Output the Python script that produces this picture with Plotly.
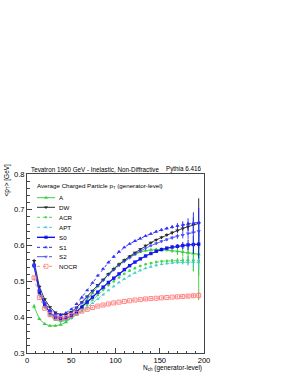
import plotly.graph_objects as go

# ---------------- data ----------------
nch = [8, 14, 20, 26, 32, 38, 44, 50, 56, 62, 68, 74, 80, 86, 92, 98,
       104, 110, 116, 122, 128, 134, 140, 146, 152, 158, 164, 170, 176, 182, 188, 194]

A = [0.430, 0.395, 0.381, 0.376, 0.376, 0.379, 0.386, 0.398, 0.413, 0.430, 0.448, 0.467, 0.486, 0.504, 0.521, 0.536,
     0.549, 0.560, 0.569, 0.576, 0.582, 0.586, 0.588, 0.589, 0.589, 0.588, 0.586, 0.584, 0.582, 0.580, 0.578, 0.576]
DW = [0.557, 0.485, 0.450, 0.428, 0.413, 0.407, 0.408, 0.415, 0.427, 0.442, 0.458, 0.474, 0.490, 0.505, 0.520, 0.534,
      0.547, 0.559, 0.570, 0.580, 0.590, 0.600, 0.608, 0.616, 0.623, 0.630, 0.636, 0.642, 0.648, 0.653, 0.658, 0.662]
ACR = [0.545, 0.470, 0.430, 0.405, 0.393, 0.388, 0.390, 0.397, 0.408, 0.420, 0.434, 0.448, 0.462, 0.476, 0.489, 0.500,
       0.511, 0.521, 0.530, 0.537, 0.543, 0.548, 0.551, 0.554, 0.556, 0.557, 0.558, 0.558, 0.559, 0.559, 0.559, 0.558]
APT = [0.540, 0.465, 0.428, 0.405, 0.393, 0.390, 0.392, 0.398, 0.406, 0.416, 0.427, 0.439, 0.451, 0.463, 0.475, 0.486,
       0.497, 0.507, 0.516, 0.524, 0.531, 0.537, 0.541, 0.545, 0.548, 0.550, 0.552, 0.553, 0.554, 0.554, 0.554, 0.553]
S0 = [0.545, 0.470, 0.435, 0.412, 0.400, 0.395, 0.397, 0.404, 0.415, 0.428, 0.442, 0.456, 0.470, 0.484, 0.497, 0.509,
      0.521, 0.533, 0.544, 0.554, 0.563, 0.571, 0.578, 0.584, 0.589, 0.593, 0.596, 0.598, 0.600, 0.602, 0.603, 0.604]
S1 = [0.545, 0.475, 0.440, 0.420, 0.410, 0.407, 0.412, 0.422, 0.437, 0.455, 0.475, 0.496, 0.516, 0.535, 0.553, 0.569,
      0.583, 0.595, 0.605, 0.613, 0.620, 0.627, 0.633, 0.639, 0.644, 0.648, 0.652, 0.655, 0.658, 0.661, 0.663, 0.665]
S2 = [0.545, 0.475, 0.440, 0.418, 0.405, 0.400, 0.403, 0.412, 0.425, 0.440, 0.456, 0.472, 0.488, 0.503, 0.518, 0.532,
      0.545, 0.556, 0.566, 0.576, 0.585, 0.593, 0.600, 0.606, 0.612, 0.617, 0.622, 0.626, 0.630, 0.634, 0.637, 0.640]
NOCR = [0.510, 0.455, 0.425, 0.407, 0.398, 0.396, 0.399, 0.405, 0.411, 0.417, 0.422, 0.427, 0.431, 0.434, 0.437, 0.440,
        0.442, 0.444, 0.446, 0.448, 0.449, 0.451, 0.452, 0.453, 0.454, 0.455, 0.456, 0.457, 0.458, 0.459, 0.460, 0.461]

A_err = [0.006, 0.003, 0.002, 0.002, 0.002, 0.002, 0.002, 0.002, 0.002, 0.002, 0.002, 0.002, 0.002, 0.002, 0.002, 0.002,
         0.002, 0.002, 0.003, 0.003, 0.003, 0.003, 0.004, 0.004, 0.005, 0.005, 0.006, 0.010, 0.012, 0.020, 0.050, 0.060]
DW_err = [0.006, 0.003, 0.002, 0.002, 0.002, 0.002, 0.002, 0.002, 0.002, 0.002, 0.002, 0.002, 0.002, 0.002, 0.002, 0.002,
          0.002, 0.002, 0.003, 0.003, 0.003, 0.003, 0.003, 0.004, 0.004, 0.004, 0.005, 0.006, 0.008, 0.012, 0.020, 0.070]
ACR_err = [0.006, 0.003, 0.002, 0.002, 0.002, 0.002, 0.002, 0.002, 0.002, 0.002, 0.002, 0.002, 0.002, 0.002, 0.002, 0.002,
           0.002, 0.002, 0.003, 0.003, 0.003, 0.003, 0.003, 0.004, 0.004, 0.004, 0.005, 0.007, 0.010, 0.012, 0.030, 0.110]
APT_err = [0.006, 0.003, 0.002, 0.002, 0.002, 0.002, 0.002, 0.002, 0.002, 0.002, 0.002, 0.002, 0.002, 0.002, 0.002, 0.002,
           0.002, 0.002, 0.002, 0.002, 0.003, 0.003, 0.003, 0.003, 0.003, 0.003, 0.004, 0.005, 0.007, 0.010, 0.015, 0.020]
S0_err = [0.006, 0.003, 0.002, 0.002, 0.002, 0.002, 0.002, 0.002, 0.002, 0.002, 0.002, 0.002, 0.002, 0.002, 0.002, 0.002,
          0.002, 0.002, 0.002, 0.003, 0.003, 0.003, 0.003, 0.003, 0.003, 0.003, 0.004, 0.006, 0.010, 0.015, 0.025, 0.040]
S1_err = [0.006, 0.003, 0.002, 0.002, 0.002, 0.002, 0.002, 0.002, 0.002, 0.002, 0.002, 0.002, 0.002, 0.002, 0.002, 0.002,
          0.002, 0.002, 0.003, 0.003, 0.003, 0.003, 0.003, 0.004, 0.004, 0.004, 0.005, 0.008, 0.010, 0.015, 0.030, 0.040]
S2_err = [0.006, 0.003, 0.002, 0.002, 0.002, 0.002, 0.002, 0.002, 0.002, 0.002, 0.002, 0.002, 0.002, 0.002, 0.002, 0.002,
          0.002, 0.002, 0.003, 0.003, 0.003, 0.003, 0.003, 0.004, 0.004, 0.004, 0.005, 0.007, 0.010, 0.015, 0.040, 0.030]
NOCR_err = [0.006, 0.003, 0.002, 0.002, 0.002, 0.002, 0.002, 0.002, 0.002, 0.002, 0.002, 0.002, 0.002, 0.002, 0.002, 0.002,
            0.002, 0.002, 0.002, 0.002, 0.002, 0.002, 0.002, 0.002, 0.002, 0.002, 0.002, 0.003, 0.004, 0.005, 0.006, 0.010]

series_names = ["A", "DW", "ACR", "APT", "S0", "S1", "S2", "NOCR"]
series_vals = [A, DW, ACR, APT, S0, S1, S2, NOCR]
series_errs = [A_err, DW_err, ACR_err, APT_err, S0_err, S1_err, S2_err, NOCR_err]

x_ticks = [0, 50, 100, 150, 200]
y_ticks = [0.3, 0.4, 0.5, 0.6, 0.7, 0.8]

# ---------------- styles ----------------
styles = {
    "A":    dict(color="rgb(40,200,40)",   dash="solid",   width=0.9, symbol="triangle-up",   msize=3.8),
    "DW":   dict(color="rgb(20,20,20)",    dash="solid",   width=0.9, symbol="triangle-down", msize=3.8),
    "ACR":  dict(color="rgb(50,210,50)",   dash="dot",     width=0.9, symbol="circle",        msize=2.6),
    "APT":  dict(color="rgb(60,200,200)",  dash="dot",     width=0.9, symbol="triangle-up",   msize=3.4),
    "S0":   dict(color="rgb(0,0,240)",     dash="solid",   width=1.3, symbol="square",        msize=3.4),
    "S1":   dict(color="rgb(30,30,255)",   dash="dot",     width=1.0, symbol="triangle-up",   msize=3.8),
    "S2":   dict(color="rgb(60,60,255)",   dash="dashdot", width=0.9, symbol="triangle-down", msize=3.8),
    "NOCR": dict(color="rgb(255,120,120)", dash="dot",     width=0.9, symbol="square-open",   msize=4.0),
}

W, H = 293, 380
ML, MR, MT, MB = 27, 89, 174, 27
PW, PH = W - ML - MR, H - MT - MB

def px_x(p):
    return (p - ML) / PW

def px_y(p):
    return (H - MB - p) / PH

FONT = "Liberation Sans, Arial, Helvetica, sans-serif"

fig = go.Figure()

for name, vals, errs in zip(series_names, series_vals, series_errs):
    st = styles[name]
    fig.add_trace(go.Scatter(
        x=nch, y=vals, name=name, mode="lines+markers",
        line=dict(color=st["color"], dash=st["dash"], width=st["width"]),
        marker=dict(symbol=st["symbol"], size=st["msize"], color=st["color"],
                    line=dict(width=1 if "open" in st["symbol"] else 0, color=st["color"])),
        error_y=dict(type="data", array=errs, visible=True, thickness=1, width=0,
                     color=st["color"]),
        opacity=0.9, showlegend=False, cliponaxis=True,
    ))

# ---- hand-made legend drawn on an overlay axis (0..1 in both directions) ----
leg_y_px = [197.7, 207.3, 217.3, 227.3, 237.3, 247.3, 256.7, 266.3]
lx0, lxm, lx1 = px_x(37), px_x(46), px_x(55)
for name, ypx in zip(series_names, leg_y_px):
    st = styles[name]
    yy = px_y(ypx)
    fig.add_trace(go.Scatter(
        x=[lx0, lxm, lx1], y=[yy, yy, yy], xaxis="x2", yaxis="y2",
        mode="lines+markers",
        line=dict(color=st["color"], dash=st["dash"], width=st["width"]),
        marker=dict(symbol=st["symbol"], size=[0, st["msize"], 0], color=st["color"],
                    line=dict(width=1 if "open" in st["symbol"] else 0, color=st["color"])),
        showlegend=False, hoverinfo="skip",
    ))
    fig.add_annotation(x=px_x(57), y=yy, xref="paper", yref="paper", text=name,
                       showarrow=False, xanchor="left", yanchor="middle",
                       font=dict(family=FONT, size=6.2, color="black"))

fig.add_annotation(x=px_x(35), y=px_y(185.7), xref="paper", yref="paper",
                   text="Average Charged Particle p<sub>T</sub> (generator-level)",
                   showarrow=False, xanchor="left", yanchor="middle",
                   font=dict(family=FONT, size=6.2, color="black"))

# titles above frame
fig.add_annotation(x=px_x(29), y=1.0, xref="paper", yref="paper",
                   text="Tevatron 1960 GeV - Inelastic, Non-Diffractive",
                   showarrow=False, xanchor="left", yanchor="bottom", yshift=-1,
                   font=dict(family=FONT, size=6.3, color="black"))
fig.add_annotation(x=1.0, y=1.0, xref="paper", yref="paper", text="Pythia 6.416",
                   showarrow=False, xanchor="right", yanchor="bottom", yshift=-1,
                   font=dict(family=FONT, size=6.3, color="black"))

# axis titles
fig.add_annotation(x=1.0, y=px_y(368), xref="paper", yref="paper",
                   text="N<sub>ch</sub> (generator-level)",
                   showarrow=False, xanchor="right", yanchor="middle",
                   font=dict(family=FONT, size=6.5, color="black"))
fig.add_annotation(x=px_x(6), y=px_y(162), xref="paper", yref="paper",
                   text="&lt;p<sub>T</sub>&gt; [GeV]", textangle=-90,
                   showarrow=False, xanchor="center", yanchor="top",
                   font=dict(family=FONT, size=6.5, color="black"))

axis_common = dict(showgrid=False, zeroline=False, showline=True, linecolor="#444",
                   linewidth=1, mirror=True, ticks="inside", tickcolor="#444",
                   tickfont=dict(family=FONT, size=7.6, color="black"))

fig.update_layout(
    width=W, height=H, margin=dict(l=ML, r=MR, t=MT, b=MB, pad=0),
    paper_bgcolor="white", plot_bgcolor="white", showlegend=False,
    xaxis=dict(range=[0, 200], tickvals=x_ticks, ticktext=[str(v) for v in x_ticks],
               ticklen=5, minor=dict(ticks="inside", ticklen=2.5, dtick=10, tickcolor="#444"),
               **axis_common),
    yaxis=dict(range=[0.3, 0.8], tickvals=y_ticks, ticktext=[f"{v:.1f}" for v in y_ticks],
               ticklen=5, minor=dict(ticks="inside", ticklen=2.5, dtick=0.02, tickcolor="#444"),
               **axis_common),
    xaxis2=dict(overlaying="x", range=[0, 1], visible=False, fixedrange=True),
    yaxis2=dict(overlaying="y", range=[0, 1], visible=False, fixedrange=True),
)

fig.write_html("out.html", config={"displayModeBar": False},
               post_script="document.body.style.margin='0';")
